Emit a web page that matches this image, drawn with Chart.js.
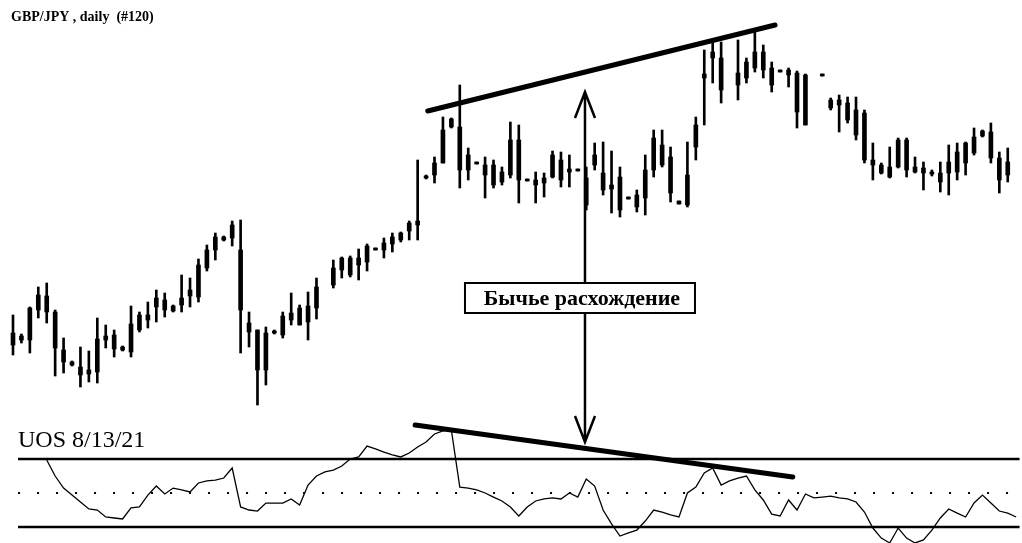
<!DOCTYPE html>
<html>
<head>
<meta charset="utf-8">
<script src="https://cdn.jsdelivr.net/npm/chart.js@4.4.1/dist/chart.umd.min.js"></script>
<style>
  html, body { margin: 0; padding: 0; background: #fff; }
  #wrap { position: relative; width: 1022px; height: 543px; }
  canvas { display: block; }
</style>
</head>
<body>
<div id="wrap"><canvas id="chart" width="1022" height="543"></canvas></div>
<script>
// ---- text ----
const chartTitle = 'GBP/JPY , daily  (#120)';
const oscTitle = 'UOS 8/13/21';
const noteText = 'Бычье расхождение';

// ---- daily GBP/JPY bars (null = no bar drawn) ----
const openP = [
  206.7,206.0,206.0,210.5,210.4,208.8,205.0,203.8,203.3,202.6,
  202.8,206.0,206.5,205.0,204.8,207.0,208.0,210.2,210.0,208.9,
  209.5,210.4,210.3,213.2,215.0,216.0,216.2,215.0,207.7,207.0,
  203.0,206.7,206.5,208.0,207.5,207.8,209.2,null,211.5,213.0,
  214.2,213.5,213.8,215.0,215.0,215.6,216.0,216.9,217.5,222.2,
  222.5,223.7,227.3,227.3,224.5,223.6,223.5,223.5,221.8,222.5,
  226.0,221.9,222.0,221.7,222.3,224.0,222.8,223.1,222.2,223.5,
  222.7,221.5,222.3,220.1,219.3,220.2,223.0,225.5,224.3,219.6,
  219.5,225.3,232.2,234.2,234.2,null,231.5,232.2,233.2,234.8,
  233.2,232.8,232.5,232.7,232.5,null,232.6,230.0,229.5,229.7,
  229.0,228.7,224.0,223.5,222.3,223.3,226.0,223.3,223.2,222.6,
  222.7,222.7,222.8,223.7,224.7,226.4,226.8,224.2,222.5,null
];
const highP = [
  208.5,206.6,209.3,211.3,211.7,209.0,206.2,203.9,205.3,204.9,
  208.2,207.5,207.0,205.4,209.4,208.8,209.8,211.0,210.7,209.5,
  212.5,212.2,214.1,215.5,216.7,216.4,217.9,218.0,208.8,207.0,
  207.3,207.0,208.8,210.7,209.5,210.8,212.2,null,214.0,214.3,
  214.4,215.1,215.6,215.2,216.2,216.7,216.8,217.9,224.0,222.5,
  224.3,228.3,228.2,231.5,225.2,223.8,224.3,224.0,223.3,227.8,
  227.5,222.1,222.8,222.7,224.9,224.8,224.5,223.1,223.3,225.7,
  225.8,224.9,223.3,220.3,221.0,224.5,227.0,227.0,225.3,219.9,
  225.8,228.3,235.0,235.7,235.8,null,236.0,234.2,236.8,235.5,
  233.8,233.0,233.2,232.9,232.6,null,232.6,230.2,230.5,230.3,
  230.3,229.0,225.7,223.7,225.3,226.2,226.2,224.3,223.8,223.0,
  223.8,225.5,225.7,225.8,227.2,227.0,227.7,224.8,225.2,null
];
const lowP = [
  204.5,205.7,204.7,208.2,207.7,202.4,202.7,203.4,201.3,201.8,
  201.7,205.2,204.3,204.9,204.3,206.8,207.2,207.8,208.3,208.8,
  208.8,209.3,209.8,212.9,214.0,215.9,215.4,204.7,205.3,199.5,
  201.5,206.6,206.2,207.5,207.5,206.0,208.1,null,211.2,212.2,
  212.3,212.0,212.9,215.0,214.2,214.8,215.8,216.0,216.0,222.1,
  221.7,223.7,227.2,221.2,222.0,223.6,220.2,221.2,221.5,222.2,
  219.7,221.9,219.7,220.3,222.2,221.3,221.3,222.9,219.0,223.0,
  220.5,218.7,218.3,220.1,218.8,218.5,222.3,223.3,219.8,219.6,
  219.3,224.0,227.5,231.7,229.7,null,230.0,231.7,232.8,232.2,
  230.8,232.8,231.3,227.2,227.5,null,232.4,229.0,226.8,227.7,
  226.0,223.7,222.0,222.6,222.2,223.2,222.3,222.7,221.0,222.4,
  220.8,220.5,222.0,222.5,224.5,226.3,223.7,220.7,221.8,null
];
const closeP = [
  205.5,206.4,209.2,209.0,208.8,205.2,203.8,203.5,202.5,203.0,
  206.1,206.4,205.1,205.3,207.6,208.5,208.5,209.3,209.0,209.4,
  210.2,211.0,213.5,215.0,216.3,216.3,217.5,209.0,206.8,203.0,
  206.7,206.9,208.4,208.7,209.2,209.4,211.3,null,213.2,214.2,
  212.5,214.2,215.4,215.2,215.7,216.3,216.7,217.7,217.9,222.4,
  223.7,227.0,228.1,223.0,223.0,223.8,222.5,221.5,222.8,226.0,
  222.0,222.1,221.5,222.2,224.5,222.0,223.1,222.9,219.5,224.5,
  221.0,221.1,219.0,220.3,220.5,223.0,226.2,223.5,220.7,219.9,
  222.5,227.5,232.6,234.8,231.0,null,232.7,233.8,234.8,233.0,
  231.5,233.0,233.0,228.8,227.5,null,232.4,229.2,230.0,228.0,
  226.5,224.0,223.5,222.7,223.3,226.0,223.0,222.8,222.7,222.8,
  221.8,223.8,224.8,225.7,226.3,226.9,224.2,222.0,223.8,null
];

// ---- Ultimate Oscillator 8/13/21 ----
const uos = [
  null,null,null,null,69.4,60.0,52.9,48.8,44.7,40.6,
  40.0,35.9,35.3,34.7,41.2,41.8,48.8,54.1,49.4,52.9,
  51.8,50.6,55.9,57.1,57.6,58.8,64.7,41.8,40.0,39.4,
  44.1,44.1,44.1,46.5,42.9,54.7,60.0,62.4,63.5,65.9,
  70.0,71.2,77.6,75.9,74.1,72.4,71.2,73.5,77.1,80.0,
  84.7,86.5,87.1,53.5,52.9,51.8,50.0,47.6,45.3,41.8,
  36.5,41.8,45.3,46.5,47.1,46.5,50.0,47.6,58.2,54.1,
  40.0,31.8,24.7,26.5,28.2,33.5,40.0,38.8,37.1,35.9,
  50.0,53.5,61.8,64.7,54.7,57.1,58.8,60.0,51.8,45.9,
  37.6,36.5,45.9,40.0,49.4,47.1,47.6,48.2,47.1,46.5,
  44.7,38.8,29.4,23.5,20.6,29.4,23.5,20.6,22.4,28.2,
  35.3,40.6,38.2,35.9,44.1,48.8,44.1,39.4,38.2,35.9
];
const uosLevels = [70, 30];
const uosMid = 50;
const levelSpan = [0.6, 119.4];

// ---- divergence annotations: [bar, value] ----
const priceTrend = [[49.2, 228.9], [90.4, 237.5]];
const uosTrend = [[47.7, 90.0], [92.5, 59.4]];
const arrowBar = 67.85;
const arrowTopPrice = 230.8;
const arrowBottomUos = 80;
const noteCenterPrice = 210.2;

// ---- build library datasets ----
const wicks = [], bodies = [];
highP.forEach((h, i) => {
  if (h === null) return;
  wicks.push({ x: i, y: [lowP[i], h] });
  const a = openP[i], b = closeP[i];
  bodies.push({ x: i, y: [Math.min(a, b), Math.max(a, b)] });
});
const uosPoints = uos.map((v, i) => ({ x: i, y: v }));
const levelSets = uosLevels.map(v => ({
  type: 'line', data: levelSpan.map(x => ({ x, y: v })), yAxisID: 'osc',
  borderColor: '#000', borderWidth: 2.5, pointRadius: 0
}));

const annotate = {
  id: 'annotate',
  afterDatasetsDraw(chart) {
    const { ctx, scales } = chart;
    const x = scales.x, y = scales.y, o = scales.osc;
    ctx.save();
    ctx.strokeStyle = '#000';
    ctx.fillStyle = '#000';
    ctx.lineCap = 'round';

    // thick trend lines
    ctx.lineWidth = 5;
    ctx.beginPath();
    ctx.moveTo(x.getPixelForValue(priceTrend[0][0]), y.getPixelForValue(priceTrend[0][1]));
    ctx.lineTo(x.getPixelForValue(priceTrend[1][0]), y.getPixelForValue(priceTrend[1][1]));
    ctx.stroke();
    ctx.beginPath();
    ctx.moveTo(x.getPixelForValue(uosTrend[0][0]), o.getPixelForValue(uosTrend[0][1]));
    ctx.lineTo(x.getPixelForValue(uosTrend[1][0]), o.getPixelForValue(uosTrend[1][1]));
    ctx.stroke();

    // double-headed arrow
    const ax = x.getPixelForValue(arrowBar);
    const yt = y.getPixelForValue(arrowTopPrice);
    const yb = o.getPixelForValue(arrowBottomUos);
    ctx.lineWidth = 2.5;
    ctx.lineCap = 'butt';
    ctx.beginPath();
    ctx.moveTo(ax, yt); ctx.lineTo(ax, yb);
    ctx.moveTo(ax - 10, yt + 26); ctx.lineTo(ax, yt); ctx.lineTo(ax + 10, yt + 26);
    ctx.moveTo(ax - 10, yb - 26); ctx.lineTo(ax, yb); ctx.lineTo(ax + 10, yb - 26);
    ctx.stroke();

    // note box
    const cy = y.getPixelForValue(noteCenterPrice);
    const bw = 230, bh = 30, bx = ax - 5 - bw / 2;
    ctx.fillStyle = '#fff';
    ctx.fillRect(bx, cy - bh / 2, bw, bh);
    ctx.lineWidth = 2;
    ctx.strokeRect(bx, cy - bh / 2, bw, bh);
    ctx.fillStyle = '#000';
    ctx.font = 'bold 22px "Liberation Serif", serif';
    ctx.textAlign = 'center';
    ctx.textBaseline = 'middle';
    ctx.fillText(noteText, ax - 3, cy + 1);

    // titles
    ctx.textAlign = 'left';
    ctx.textBaseline = 'alphabetic';
    ctx.font = 'bold 14px "Liberation Serif", serif';
    ctx.fillText(chartTitle, 11, 21);
    ctx.font = '24px "Liberation Serif", serif';
    ctx.fillText(oscTitle, 18, 447);
    ctx.restore();
  }
};

new Chart(document.getElementById('chart'), {
  type: 'bar',
  data: {
    datasets: [
      { data: wicks, backgroundColor: '#000', barThickness: 2, grouped: false, yAxisID: 'y', borderWidth: 0 },
      { data: bodies, backgroundColor: '#000', barThickness: 4, grouped: false, yAxisID: 'y', borderWidth: 0 },
      { type: 'line', data: uosPoints, yAxisID: 'osc', borderColor: '#000', borderWidth: 1.3, pointRadius: 0, tension: 0 },
      ...levelSets,
      { type: 'line', data: levelSpan.map(x => ({ x, y: uosMid })), yAxisID: 'osc',
        borderColor: '#000', borderWidth: 2, borderDash: [2, 17], pointRadius: 0 }
    ]
  },
  options: {
    responsive: false,
    animation: false,
    devicePixelRatio: 1,
    layout: { padding: 0 },
    plugins: { legend: { display: false }, tooltip: { enabled: false }, title: { display: false } },
    scales: {
      x: { type: 'linear', min: -1.542, max: 119.69, display: false, offset: false },
      y: { type: 'linear', min: 185.7, max: 240, display: false },
      osc: { type: 'linear', min: 20.59, max: 340, display: false }
    }
  },
  plugins: [annotate]
});
</script>
</body>
</html>
